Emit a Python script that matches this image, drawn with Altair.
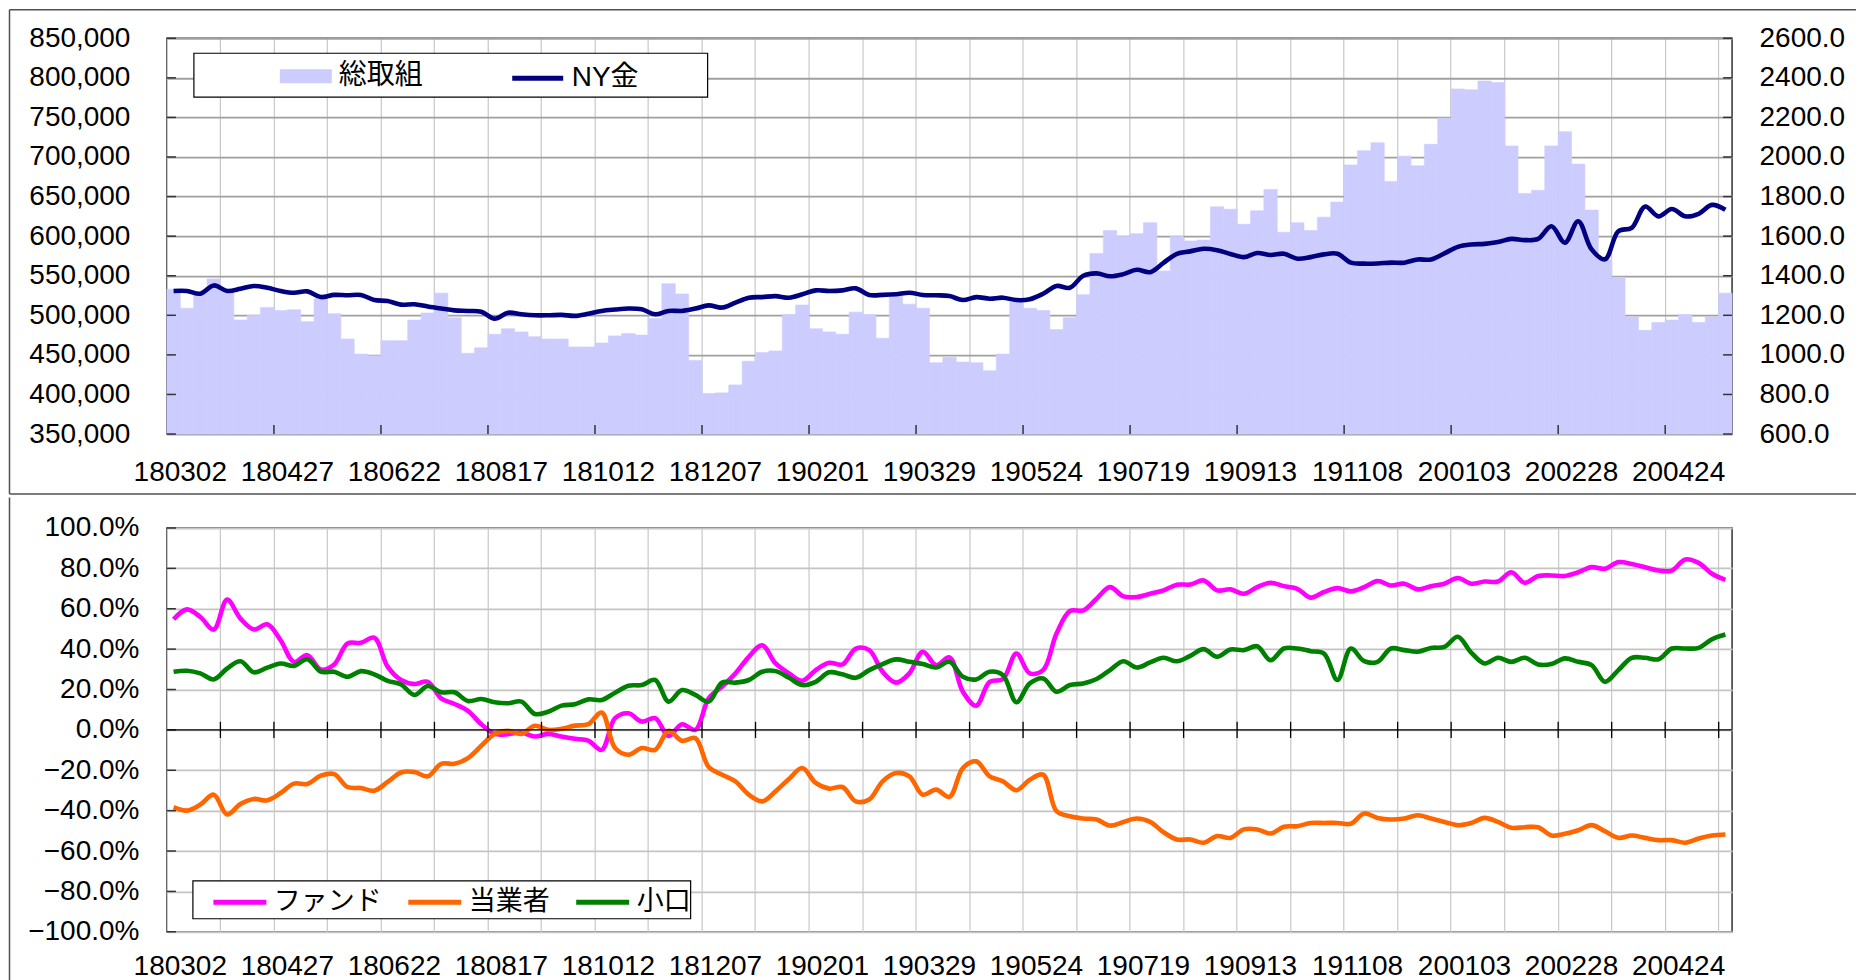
import json
import altair as alt
import pandas as pd

# ---------------- data ----------------
dates = [d.strftime("%y%m%d") for d in pd.date_range("2018-03-02", periods=117, freq="7D")]
label_dates = dates[::8]
grid_dates = dates[::4]

open_interest = [
    533000, 509000, 529000, 546000, 531000, 494000, 500000, 510000, 506000, 507000,
    492000, 521000, 502000, 470000, 451000, 449000, 468000, 468000, 494000, 503000,
    528000, 497000, 452000, 459000, 476000, 483000, 479000, 473000, 470000, 470000,
    460000, 460000, 465000, 474000, 477000, 475000, 496000, 540000, 527000, 443000,
    401000, 402000, 412000, 442000, 453000, 455000, 501000, 513000, 483000, 479000,
    476000, 504000, 501000, 471000, 524000, 514000, 509000, 440000, 447000, 441000,
    440000, 430000, 451000, 517000, 509000, 506000, 482000, 497000, 526000, 578000,
    607000, 600000, 603000, 617000, 556000, 600000, 594000, 595000, 637000, 634000,
    615000, 632000, 659000, 605000, 617000, 607000, 624000, 643000, 690000, 708000,
    718000, 669000, 701000, 689000, 716000, 749000, 786000, 785000, 796000, 794000,
    714000, 654000, 658000, 714000, 732000, 691000, 633000, 570000, 548000, 498000,
    481000, 491000, 494000, 501000, 491000, 498000, 528000,
]

ny_gold = [
    1323, 1323, 1309, 1351, 1323, 1334, 1348, 1339, 1323, 1314,
    1321, 1292, 1303, 1301, 1303, 1277, 1272, 1254, 1256, 1244,
    1234, 1225, 1222, 1218, 1183, 1213, 1205, 1200, 1200, 1202,
    1197, 1208, 1222, 1229, 1234, 1230, 1205, 1222, 1222, 1234,
    1250, 1239, 1264, 1289, 1292, 1297, 1289, 1306, 1326, 1323,
    1326, 1336, 1303, 1303, 1306, 1314, 1303, 1301, 1297, 1277,
    1292, 1284, 1289, 1277, 1281, 1309, 1348, 1339, 1400, 1412,
    1397, 1408, 1430, 1418, 1465, 1511, 1523, 1536, 1529, 1510,
    1494, 1515, 1505, 1511, 1486, 1494, 1508, 1511, 1466, 1461,
    1462, 1466, 1466, 1482, 1482, 1513, 1546, 1558, 1561, 1570,
    1586, 1580, 1586, 1650, 1567, 1675, 1533, 1483, 1625, 1642,
    1750, 1700, 1737, 1700, 1713, 1758, 1733,
]

fund = [
    54.8, 59.7, 55.9, 49.7, 64.5, 55.1, 49.7, 52.3, 44.4, 33.7,
    37.0, 29.9, 32.4, 42.8, 43.1, 45.7, 31.3, 24.7, 22.7, 23.8,
    15.6, 12.8, 9.4, 2.8, -2.0, -2.1, -1.3, -3.3, -2.0, -3.3,
    -4.4, -5.3, -9.9, 5.8, 8.2, 4.1, 5.8, -3.0, 2.8, 0.0,
    15.6, 21.4, 28.0, 36.2, 41.9, 32.9, 28.0, 24.3, 29.6, 33.2,
    32.4, 40.3, 39.5, 28.8, 23.4, 28.0, 38.7, 32.1, 35.9, 18.9,
    12.0, 23.8, 25.2, 37.8, 28.0, 29.6, 47.7, 58.9, 59.2, 65.0,
    70.7, 66.1, 65.8, 67.4, 69.1, 71.9, 72.0, 74.0, 69.1, 69.6,
    67.4, 70.7, 72.9, 71.2, 69.9, 65.5, 68.3, 70.2, 68.6, 70.7,
    73.7, 71.5, 72.4, 69.6, 71.2, 72.4, 75.2, 72.4, 73.5, 73.5,
    78.1, 72.9, 76.2, 76.5, 76.2, 78.1, 80.6, 79.8, 83.1, 82.2,
    80.6, 78.9, 78.9, 84.4, 82.7, 77.3, 74.3,
]

commercial = [
    -38.3, -40.0, -37.0, -32.1, -41.9, -36.7, -34.2, -34.9, -31.3, -26.6,
    -26.8, -22.7, -21.9, -28.3, -28.8, -30.1, -25.8, -21.1, -20.9, -23.0,
    -16.8, -16.8, -14.0, -7.9, -2.0, -0.5, -2.0, 2.0, 0.0, 0.5,
    2.1, 2.8, 8.6, -9.0, -12.3, -9.0, -9.9, -0.5, -5.4, -4.1,
    -18.4, -22.2, -25.5, -32.1, -35.4, -30.4, -24.3, -18.9, -26.3, -29.1,
    -28.3, -35.4, -34.5, -25.5, -21.4, -23.0, -32.1, -29.6, -33.2, -18.9,
    -15.6, -23.0, -25.5, -29.9, -24.7, -22.2, -40.3, -42.8, -43.9, -44.4,
    -47.4, -45.6, -43.9, -45.6, -50.7, -54.3, -54.3, -55.9, -52.6, -53.5,
    -49.3, -49.3, -51.3, -48.0, -47.7, -46.1, -46.1, -46.1, -46.5, -41.4,
    -43.6, -44.4, -43.9, -42.3, -43.9, -45.6, -47.2, -46.1, -43.6, -45.6,
    -48.5, -48.2, -48.2, -52.3, -51.5, -49.7, -47.2, -50.2, -53.5, -52.3,
    -53.5, -54.6, -54.6, -55.9, -53.8, -52.3, -51.8,
]

small = [
    28.8, 29.3, 28.0, 25.0, 30.4, 34.0, 28.5, 30.8, 32.9, 31.7,
    35.0, 28.8, 28.8, 26.3, 29.1, 27.5, 24.3, 22.5, 17.3, 21.7,
    18.6, 18.6, 14.3, 15.3, 13.7, 13.2, 14.0, 7.9, 9.0, 12.0,
    12.7, 15.1, 14.8, 18.4, 21.9, 22.2, 24.7, 14.0, 19.7, 17.3,
    14.0, 23.4, 23.4, 24.7, 28.8, 29.1, 25.8, 22.2, 23.8, 28.5,
    27.5, 25.8, 29.6, 32.6, 34.9, 33.7, 32.6, 30.9, 33.7, 26.3,
    25.0, 28.8, 27.1, 13.7, 23.0, 25.5, 18.9, 22.2, 23.0, 25.2,
    29.6, 34.0, 30.9, 33.4, 35.7, 34.0, 36.7, 40.0, 36.2, 39.8,
    39.5, 41.4, 34.5, 40.3, 40.3, 39.0, 37.8, 24.7, 40.3, 34.0,
    33.7, 40.3, 39.5, 38.7, 40.6, 41.1, 46.1, 38.3, 32.9, 35.7,
    33.7, 35.7, 32.4, 32.6, 35.4, 33.7, 32.1, 23.8, 29.6, 35.7,
    35.7, 35.0, 40.3, 40.3, 40.6, 44.9, 47.2,
]

series_names = ["ファンド", "当業者", "小口"]
series_colors = ["#FF00FF", "#FF6600", "#008000"]
top_names = ["総取組", "NY金"]

left_ticks = [350000 + 50000 * i for i in range(11)]
right_ticks = [600 + 200 * i for i in range(11)]
pct_ticks = [round(-1 + 0.2 * i, 1) for i in range(11)]

# ---------------- layout ----------------
W = 1566
H1 = 396
H2 = 404
STEP = W / len(dates)
AX_FONT = "Liberation Sans"
LG_FONT = "Liberation Sans, Noto Sans CJK JP"

df = pd.DataFrame({"d": dates, "oi": open_interest, "gold": ny_gold,
                   "s1": top_names[0], "s2": top_names[1]})
long = pd.concat([
    pd.DataFrame({"d": dates, "series": n, "v": [x / 100 for x in vals]})
    for n, vals in zip(series_names, [fund, commercial, small])
], ignore_index=True)
one = pd.DataFrame({"a": [0]})

xscale = alt.Scale(type="band", domain=dates, paddingInner=0, paddingOuter=0)
lab_expr = "indexof(%s, datum.value) >= 0 ? datum.value : ''" % json.dumps(label_dates)


def xaxis(pad):
    return alt.Axis(values=grid_dates, bandPosition=0, labelExpr=lab_expr,
                    labelOffset=STEP / 2, labelAngle=0, labelPadding=pad,
                    labelFontSize=28, labelFont=AX_FONT, labelColor="black",
                    ticks=False, tickSize=0, domain=False, grid=True,
                    gridColor="#C8C8C8", gridWidth=1.2, title=None,
                    labelOverlap=False)


X = alt.X("d:O", sort=None, scale=xscale, axis=xaxis(24))
X0 = alt.X("d:O", sort=None, scale=xscale, axis=xaxis(24), bandPosition=0)
XB = alt.X("d:O", sort=None, scale=xscale, axis=xaxis(21))
XB0 = alt.X("d:O", sort=None, scale=xscale, axis=xaxis(21), bandPosition=0)

oi_scale = alt.Scale(domain=[350000, 850000], zero=False, nice=False)
gold_scale = alt.Scale(domain=[600, 2600], zero=False, nice=False)
pct_scale = alt.Scale(domain=[-1, 1], zero=False, nice=False)

left_axis = alt.Axis(values=left_ticks, format=",.0f",
                     labelPadding=37, labelFontSize=28, labelFont=AX_FONT,
                     labelColor="black", ticks=False, tickSize=0, domain=False,
                     grid=True, gridColor="#A0A0A0", gridWidth=1.8, title=None)
right_axis = alt.Axis(orient="right", values=right_ticks, format=".1f",
                      labelPadding=27, labelFontSize=28, labelFont=AX_FONT,
                      labelColor="black", ticks=False, tickSize=0,
                      domain=False, grid=False, title=None)

FRAME = dict(color="#505050", strokeWidth=1.5)

# ---------------- top panel ----------------
bars = alt.Chart(df).mark_bar(stroke="#CCCCFF", strokeWidth=0.6).encode(
    x=X,
    y=alt.Y("oi:Q", scale=oi_scale, axis=left_axis),
    y2=alt.datum(350000),
    fill=alt.Fill("s1:N", scale=alt.Scale(domain=[top_names[0]], range=["#CCCCFF"]),
                  legend=alt.Legend(orient="none", legendX=113, legendY=12,
                                    direction="horizontal", title=None,
                                    symbolType="M-1,-0.27H1V0.27H-1Z", symbolSize=2704,
                                    symbolStrokeWidth=0, labelOffset=7,
                                    labelFontSize=28, labelFont=LG_FONT,
                                    labelColor="black", padding=0)),
)

lticks_top = alt.Chart(pd.DataFrame({"v": left_ticks})).mark_rule(
    color="#333333", strokeWidth=1.5).encode(
    y=alt.Y("v:Q", scale=oi_scale, axis=left_axis),
    x=alt.value(0), x2=alt.value(9))

xticks_top = alt.Chart(pd.DataFrame({"d": dates[8::8]})).mark_rule(
    color="#333333", strokeWidth=1.5).encode(
    x=X0, y=alt.value(H1 - 9), y2=alt.value(H1))

box_top = alt.Chart(one).mark_rect(fill="white", stroke="black", strokeWidth=1.2).encode(
    x=alt.value(27), x2=alt.value(541), y=alt.value(15), y2=alt.value(59))

frame_left_top = alt.Chart(one).mark_rule(**FRAME).encode(
    x=alt.value(-157.5), y=alt.value(-28.5), y2=alt.value(456))
frame_top = alt.Chart(one).mark_rule(**FRAME).encode(
    x=alt.value(-157.5), x2=alt.value(1690), y=alt.value(-28.5))
frame_div = alt.Chart(one).mark_rule(**FRAME).encode(
    x=alt.value(-157.5), x2=alt.value(1690), y=alt.value(456))

left_group = alt.layer(bars, lticks_top, xticks_top, box_top,
                       frame_left_top, frame_top, frame_div)

gold_line = alt.Chart(df).mark_line(strokeWidth=4.6, interpolate="catmull-rom").encode(
    x=X,
    y=alt.Y("gold:Q", scale=gold_scale, axis=right_axis),
    stroke=alt.Stroke("s2:N", scale=alt.Scale(domain=[top_names[1]], range=["#000080"]),
                      legend=alt.Legend(orient="none", legendX=343, legendY=12,
                                        direction="horizontal", title=None,
                                        symbolType="stroke", symbolSize=2601,
                                        symbolStrokeWidth=5, labelOffset=6,
                                        labelFontSize=28, labelFont=LG_FONT,
                                        labelColor="black", padding=0)),
)

rticks_top = alt.Chart(pd.DataFrame({"v": right_ticks})).mark_rule(
    color="#333333", strokeWidth=1.5).encode(
    y=alt.Y("v:Q", scale=gold_scale, axis=right_axis),
    x=alt.value(W - 9), x2=alt.value(W))

right_group = alt.layer(gold_line, rticks_top)

top = alt.layer(left_group, right_group).resolve_scale(
    y="independent").properties(width=W, height=H1)

# ---------------- bottom panel ----------------
pct_axis = alt.Axis(values=pct_ticks, format=".1%",
                    labelPadding=28, labelFontSize=28, labelFont=AX_FONT,
                    labelColor="black", ticks=False, tickSize=0, domain=False,
                    grid=True, gridColor="#C4C4C4", gridWidth=1.8, title=None)

lines = alt.Chart(long).mark_line(strokeWidth=4.6, interpolate="catmull-rom").encode(
    x=XB,
    y=alt.Y("v:Q", scale=pct_scale, axis=pct_axis),
    color=alt.Color("series:N", sort=series_names,
                    scale=alt.Scale(domain=series_names, range=series_colors),
                    legend=alt.Legend(orient="none", legendX=44, legendY=345.5,
                                      direction="horizontal", title=None,
                                      symbolType="stroke", symbolSize=2809,
                                      symbolStrokeWidth=5, labelOffset=5,
                                      columnPadding=16, labelFontSize=27,
                                      labelFont=LG_FONT, labelColor="black",
                                      padding=0)),
)

lticks_bot = alt.Chart(pd.DataFrame({"v": pct_ticks})).mark_rule(
    color="#333333", strokeWidth=1.5).encode(
    y=alt.Y("v:Q", scale=pct_scale, axis=pct_axis),
    x=alt.value(0), x2=alt.value(9))

zero_rule = alt.Chart(one).mark_rule(color="black", strokeWidth=1.3).encode(
    y=alt.datum(0), x=alt.value(0), x2=alt.value(W))

cross_ticks = alt.Chart(pd.DataFrame({"d": dates[4::4]})).mark_rule(
    color="black", strokeWidth=1.3).encode(
    x=XB0, y=alt.datum(-0.04), y2=alt.datum(0.04))

box_bot = alt.Chart(one).mark_rect(fill="white", stroke="black", strokeWidth=1.2).encode(
    x=alt.value(26), x2=alt.value(524), y=alt.value(353), y2=alt.value(391))

frame_left_bot = alt.Chart(one).mark_rule(**FRAME).encode(
    x=alt.value(-157.5), y=alt.value(-30.5), y2=alt.value(460))

bottom = alt.layer(
    lines, lticks_bot, zero_rule, cross_ticks, box_bot, frame_left_bot
).properties(width=W, height=H2)

chart = alt.vconcat(top, bottom, spacing=0, padding=0).resolve_legend(
    color="independent", fill="independent", stroke="independent"
).configure_view(stroke="#333333", strokeWidth=1.5)

chart.save("out.html", embed_options={"renderer": "svg", "actions": False})
